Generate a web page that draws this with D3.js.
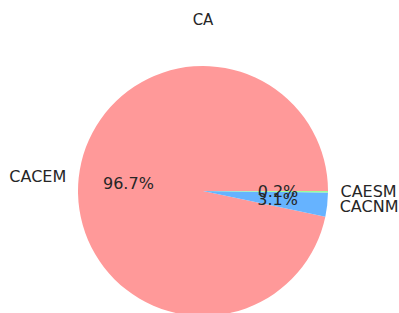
<!DOCTYPE html>
<html>
<head>
<meta charset="utf-8">
<script src="https://cdn.jsdelivr.net/npm/d3@7"></script>
<style>
  body { margin: 0; background: #fff; }
  text { font-family: 'DejaVu Sans', sans-serif; fill: #262626; }
</style>
</head>
<body>
<div class="graph"><svg></svg></div>
<script>
// pie data, in matplotlib drawing order (counter-clockwise from east)
const labels = ['CACEM', 'CACNM', 'CAESM']
const shares = [96.7, 3.1, 0.2]
const colors = ['#ff9999', '#66b3ff', '#99ff99']
const title = 'CA'

const width = 399
const height = 313
const cx = 203
const cy = 191
const radius = 125

const svg = d3.select('.graph').select('svg')
  .attr('width', width)
  .attr('height', height)

svg.append('text')
  .attr('x', cx)
  .attr('y', 25)
  .attr('text-anchor', 'middle')
  .attr('font-size', 15)
  .text(title)

const data = labels.map((l, i) => ({ label: l, value: shares[i], color: colors[i] }))

// matplotlib: start at 0 rad (east), counter-clockwise
// d3 angles: 0 = north, clockwise. east = PI/2, going ccw means decreasing
const pie = d3.pie()
  .value(d => d.value)
  .sort(null)
  .startAngle(Math.PI / 2)
  .endAngle(Math.PI / 2 - 2 * Math.PI)

const arcs = pie(data)
const arc = d3.arc().innerRadius(0).outerRadius(radius)

const g = svg.append('g')
  .attr('transform', 'translate(' + cx + ',' + cy + ')')

g.selectAll('path')
  .data(arcs)
  .enter()
  .append('path')
  .attr('d', arc)
  .attr('fill', d => d.data.color)

function pos (d, k) {
  const a = (d.startAngle + d.endAngle) / 2
  return [Math.sin(a) * radius * k, -Math.cos(a) * radius * k]
}

// percentage labels
g.selectAll('.pct')
  .data(arcs)
  .enter()
  .append('text')
  .attr('class', 'pct')
  .attr('x', d => pos(d, 0.6)[0])
  .attr('y', d => pos(d, 0.6)[1])
  .attr('dy', '0.35em')
  .attr('text-anchor', 'middle')
  .attr('font-size', 16)
  .text(d => d.data.value.toFixed(1) + '%')

// category labels
g.selectAll('.lbl')
  .data(arcs)
  .enter()
  .append('text')
  .attr('class', 'lbl')
  .attr('x', d => pos(d, 1.1)[0])
  .attr('y', d => pos(d, 1.1)[1])
  .attr('dy', '0.35em')
  .attr('text-anchor', d => pos(d, 1)[0] < 0 ? 'end' : 'start')
  .attr('font-size', 16)
  .text(d => d.data.label)
</script>
</body>
</html>
